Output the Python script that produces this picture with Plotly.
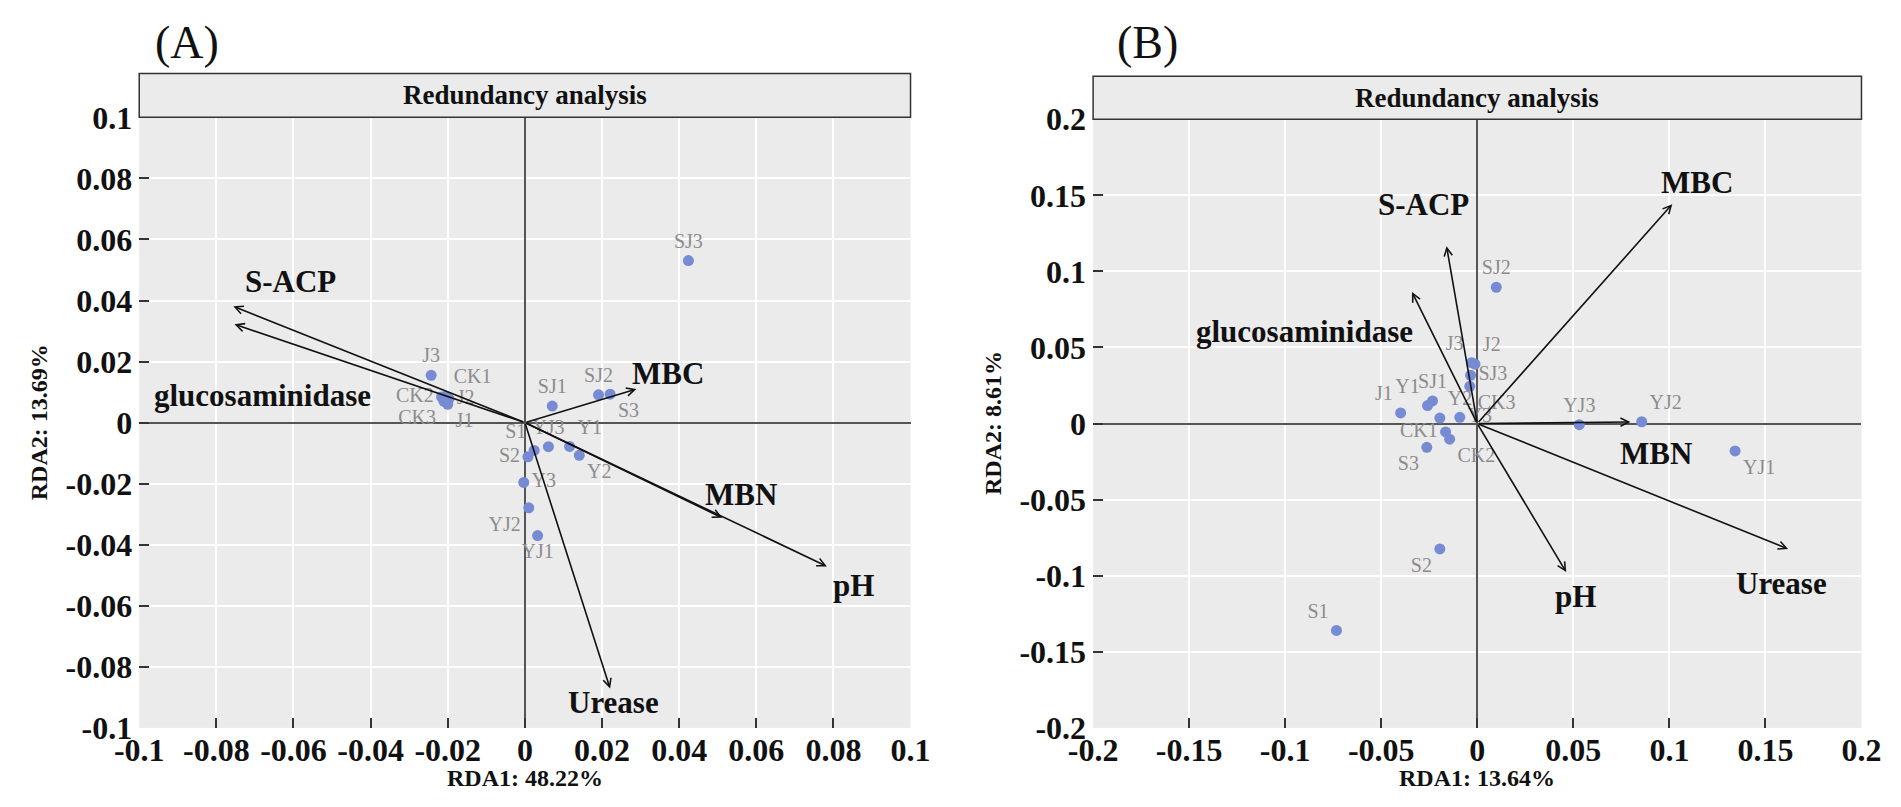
import plotly.graph_objects as go

# ---------------- data: panel A ----------------
A_samples = ["CK1", "CK2", "CK3", "J1", "J2", "J3", "S1", "S2", "S3",
             "SJ1", "SJ2", "SJ3", "Y1", "Y2", "Y3", "YJ1", "YJ2", "YJ3"]
A_rda1 = [-0.0205, -0.0216, -0.0210, -0.0200, -0.0197, -0.0243, 0.0024, 0.0008, 0.0221,
          0.0071, 0.0191, 0.0424, 0.0116, 0.0141, -0.0003, 0.0033, 0.0010, 0.0061]
A_rda2 = [0.0086, 0.0084, 0.0070, 0.0060, 0.0078, 0.0155, -0.0091, -0.0112, 0.0093,
          0.0054, 0.0091, 0.0531, -0.0078, -0.0107, -0.0196, -0.0370, -0.0279, -0.0079]
A_textpos = ["top right", "middle left", "bottom left", "bottom right", "middle right", "top center",
             "top left", "middle left", "bottom right", "top center", "top center", "top center",
             "top right", "bottom right", "middle right", "bottom center", "bottom left", "top center"]

A_vars = ["S-ACP", "glucosaminidase", "MBC", "MBN", "pH", "Urease"]
A_vx = [-0.0756, -0.0753, 0.0289, 0.0512, 0.0783, 0.0221]
A_vy = [0.0381, 0.0322, 0.0110, -0.0312, -0.0471, -0.0871]
A_lab_x = [-0.0609, -0.0680, 0.0370, 0.0561, 0.0852, 0.0229]
A_lab_y = [0.0462, 0.0090, 0.0160, -0.0237, -0.0532, -0.0916]

# ---------------- data: panel B ----------------
B_samples = ["CK1", "CK2", "CK3", "J1", "J2", "J3", "S1", "S2", "S3",
             "SJ1", "SJ2", "SJ3", "Y1", "Y2", "Y3", "YJ1", "YJ2", "YJ3"]
B_rda1 = [-0.0165, -0.0144, -0.0039, -0.0399, -0.0012, -0.0030, -0.0733, -0.0195, -0.0263,
          -0.0233, 0.0099, -0.0035, -0.0259, -0.0195, -0.0091, 0.1342, 0.0856, 0.0531]
B_rda2 = [-0.0055, -0.0103, 0.0245, 0.0070, 0.0390, 0.0400, -0.1360, -0.0824, -0.0156,
          0.0149, 0.0896, 0.0317, 0.0118, 0.0036, 0.0041, -0.0180, 0.0012, -0.0007]
B_textpos = ["middle left", "bottom right", "bottom right", "top left", "top right", "top left",
             "top left", "bottom left", "bottom left", "top center", "top center", "middle right",
             "top left", "top right", "middle right", "bottom right", "top right", "top center"]

B_vars = ["S-ACP", "glucosaminidase", "MBC", "MBN", "pH", "Urease"]
B_vx = [-0.0160, -0.0340, 0.1015, 0.0797, 0.0463, 0.1618]
B_vy = [0.1166, 0.0865, 0.1442, 0.0010, -0.0976, -0.0824]
B_lab_x = [-0.0282, -0.0900, 0.1142, 0.0930, 0.0510, 0.1585]
B_lab_y = [0.1442, 0.0606, 0.1584, -0.0200, -0.1137, -0.1053]

A_ticks = [-0.1, -0.08, -0.06, -0.04, -0.02, 0, 0.02, 0.04, 0.06, 0.08, 0.1]
A_ticktext = ["-0.1", "-0.08", "-0.06", "-0.04", "-0.02", "0", "0.02", "0.04", "0.06", "0.08", "0.1"]
B_ticks = [-0.2, -0.15, -0.1, -0.05, 0, 0.05, 0.1, 0.15, 0.2]
B_ticktext = ["-0.2", "-0.15", "-0.1", "-0.05", "0", "0.05", "0.1", "0.15", "0.2"]

titles = ["(A)", "(B)"]
strip_text = "Redundancy analysis"
A_xtitle, A_ytitle = "RDA1: 48.22%", "RDA2: 13.69%"
B_xtitle, B_ytitle = "RDA1: 13.64%", "RDA2: 8.61%"

# ---------------- styling / layout ----------------
W, H = 1901, 807
SERIF = "Liberation Serif"
PT_COLOR = "#768bd3"
LAB_COLOR = "#8c8c8c"
PANEL_BG = "#ebebeb"


def px_x(p):
    return p / W


def px_y(p):
    return 1 - p / H


A_dom_x = [px_x(117), px_x(907)]
B_dom_x = [px_x(1094), px_x(1881)]
A_dom_y = [px_y(743), px_y(104)]
B_dom_y = [px_y(743), px_y(106)]

fig = go.Figure()

fig.add_trace(go.Scatter(
    x=A_rda1, y=A_rda2, text=A_samples, mode="markers+text",
    textposition=A_textpos, xaxis="x", yaxis="y",
    marker=dict(color=PT_COLOR, size=11),
    textfont=dict(family=SERIF, size=20, color=LAB_COLOR),
    cliponaxis=False, showlegend=False, hoverinfo="skip"))

fig.add_trace(go.Scatter(
    x=B_rda1, y=B_rda2, text=B_samples, mode="markers+text",
    textposition=B_textpos, xaxis="x2", yaxis="y2",
    marker=dict(color=PT_COLOR, size=11),
    textfont=dict(family=SERIF, size=20, color=LAB_COLOR),
    cliponaxis=False, showlegend=False, hoverinfo="skip"))

annotations = []
for xr, yr, vx, vy, lx, ly, names in [("x", "y", A_vx, A_vy, A_lab_x, A_lab_y, A_vars),
                                       ("x2", "y2", B_vx, B_vy, B_lab_x, B_lab_y, B_vars)]:
    for i in range(len(names)):
        annotations.append(dict(
            x=vx[i], y=vy[i], ax=0, ay=0, xref=xr, yref=yr, axref=xr, ayref=yr,
            text="", showarrow=True, arrowhead=5, arrowsize=1.0, arrowwidth=1.6,
            arrowcolor="#111111", standoff=0, startstandoff=0))
        annotations.append(dict(
            x=lx[i], y=ly[i], xref=xr, yref=yr, text=names[i], showarrow=False,
            font=dict(family=SERIF, size=31, color="#111111", weight="bold"),
            xanchor="center", yanchor="middle"))

# strips
shapes = []
for dx, top, bot in [(A_dom_x, 58, 104), (B_dom_x, 61, 106)]:
    shapes.append(dict(type="rect", xref="paper", yref="paper",
                       x0=dx[0], x1=dx[1], y0=px_y(bot), y1=px_y(top),
                       fillcolor=PANEL_BG, line=dict(color="#333333", width=1.5), layer="above"))
    annotations.append(dict(x=(dx[0] + dx[1]) / 2, y=px_y((top + bot) / 2), xref="paper", yref="paper",
                            text=strip_text, showarrow=False,
                            font=dict(family=SERIF, size=27, color="#111111", weight="bold"),
                            xanchor="center", yanchor="middle"))

# panel letters
for t, cx in zip(titles, [166, 1150]):
    annotations.append(dict(x=px_x(cx), y=px_y(26), xref="paper", yref="paper", text=t,
                            showarrow=False, font=dict(family=SERIF, size=46, color="#111111"),
                            xanchor="center", yanchor="middle"))

# axis titles
for txt, cx, cy, ang in [(A_xtitle, 512, 796, 0), (B_xtitle, 1487.5, 796, 0),
                         (A_ytitle, 14, 423.5, -90), (B_ytitle, 991, 424.5, -90)]:
    annotations.append(dict(x=px_x(cx), y=px_y(cy), xref="paper", yref="paper", text=txt,
                            showarrow=False, textangle=ang,
                            font=dict(family=SERIF, size=24, color="#111111", weight="bold"),
                            xanchor="center", yanchor="middle"))


def axis(rng, ticks, ticktext, dom, anchor):
    return dict(range=rng, domain=dom, anchor=anchor, tickmode="array", tickvals=ticks,
                ticktext=ticktext, ticks="inside", ticklen=10, tickwidth=1.5, tickcolor="#333333",
                showgrid=True, gridcolor="white", gridwidth=1.6,
                zeroline=True, zerolinecolor="#555555", zerolinewidth=2.2,
                showline=False, fixedrange=True,
                tickfont=dict(family=SERIF, size=32, color="#111111", weight="bold"))


xa = axis([-0.1, 0.1], A_ticks, A_ticktext, A_dom_x, "y")
ya = axis([-0.1, 0.1], A_ticks, A_ticktext, A_dom_y, "x")
xb = axis([-0.2, 0.2], B_ticks, B_ticktext, B_dom_x, "y2")
yb = axis([-0.2, 0.2], B_ticks, B_ticktext, B_dom_y, "x2")
ya["ticklabelstandoff"] = 6
yb["ticklabelstandoff"] = 6
xa["ticklabelstandoff"] = 0
xb["ticklabelstandoff"] = 0

fig.update_layout(
    width=W, height=H, margin=dict(l=0, r=0, t=0, b=0),
    paper_bgcolor="white", plot_bgcolor=PANEL_BG,
    xaxis=xa, yaxis=ya, xaxis2=xb, yaxis2=yb,
    annotations=annotations, shapes=shapes, showlegend=False)

fig.write_html("out.html", config={"displayModeBar": False},
               post_script="document.body.style.margin='0';")
